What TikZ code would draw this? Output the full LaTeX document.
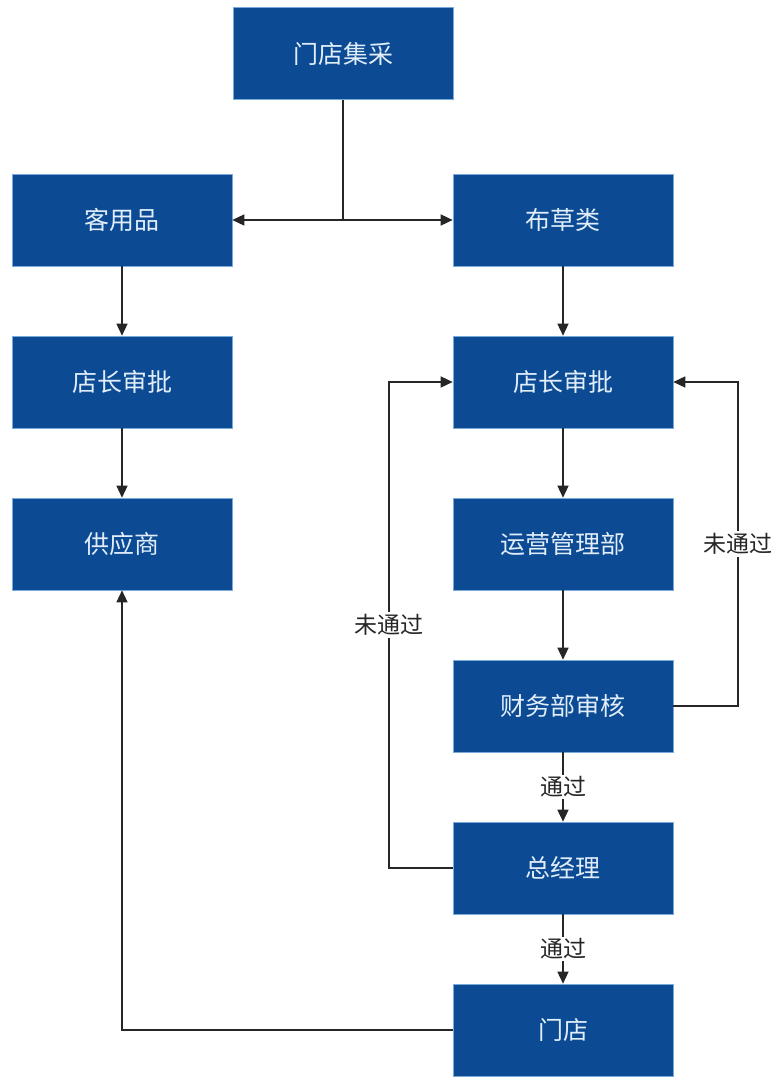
\documentclass[tikz,border=0pt]{standalone}
\usepackage{fontspec}
\setmainfont{Noto Sans CJK SC}
\usetikzlibrary{arrows.meta}
\definecolor{boxblue}{RGB}{12,75,148}
\definecolor{boxedge}{RGB}{120,170,220}
\definecolor{boxtext}{RGB}{225,238,250}
\tikzset{
  box/.style={rectangle, fill=boxblue, draw=boxedge, line width=0.6pt,
    minimum width=220pt, minimum height=92pt, inner sep=0pt,
    text=boxtext, font=\fontsize{25}{28}\selectfont},
  conn/.style={draw=black!85, line width=1.4pt, -{Triangle[length=12pt,width=11pt]}},
  plain/.style={draw=black!85, line width=1.4pt},
  lbl/.style={fill=white, inner sep=2pt, text=black!85, font=\fontsize{23}{26}\selectfont}
}
\begin{document}
\begin{tikzpicture}[x=1pt,y=-1pt]
\useasboundingbox (0,0) rectangle (778,1077);
\node[box] (top) at (343,53.5) {门店集采};
\node[box] (kyp) at (122,220) {客用品};
\node[box] (bcl) at (563,220) {布草类};
\node[box] (dzl) at (122,382) {店长审批};
\node[box] (dzr) at (563,382) {店长审批};
\node[box] (gys) at (122,544) {供应商};
\node[box] (yy) at (563,544) {运营管理部};
\node[box] (cw) at (563,706) {财务部审核};
\node[box] (zjl) at (563,868) {总经理};
\node[box] (md) at (563,1030) {门店};
\coordinate (split) at (343,220);
\coordinate (ll) at (389,868);
\coordinate (rl) at (738,706);
\coordinate (bl) at (122,1030);
\draw[plain] (top.south) -- (split);
\draw[conn] (split) -- (kyp.east);
\draw[conn] (split) -- (bcl.west);
\draw[conn] (kyp) -- (dzl);
\draw[conn] (dzl) -- (gys);
\draw[conn] (bcl) -- (dzr);
\draw[conn] (dzr) -- (yy);
\draw[conn] (yy) -- (cw);
\draw[conn] (cw) -- node[lbl] {通过} (zjl);
\draw[conn] (zjl) -- node[lbl] {通过} (md);
\draw[conn] (zjl.west) -- (ll) -- node[lbl, pos=0.5] {未通过} (ll |- dzr.west) -- (dzr.west);
\draw[conn] (cw.east) -- (rl) -- node[lbl, pos=0.5] {未通过} (rl |- dzr.east) -- (dzr.east);
\draw[conn] (md.west) -- (bl) -- (gys.south);
\end{tikzpicture}
\end{document}
